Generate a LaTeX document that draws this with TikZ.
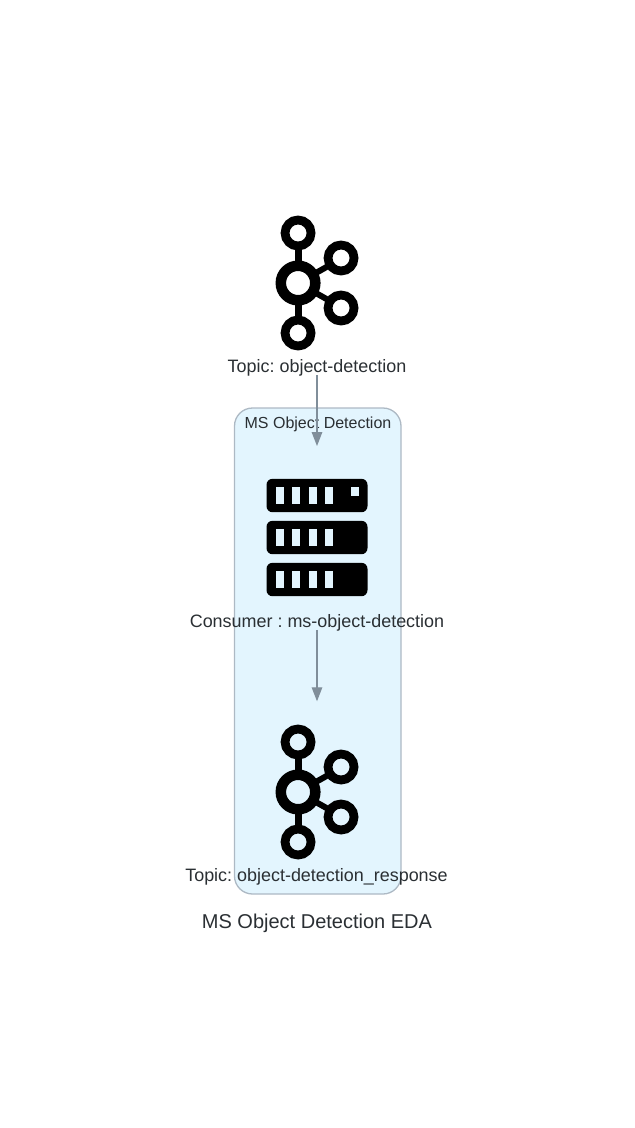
\documentclass[tikz,border=0pt]{standalone}
\usepackage{fontspec}
\setmainfont{Liberation Sans}
\frenchspacing
\usetikzlibrary{calc}
\usetikzlibrary{positioning}
\usetikzlibrary{arrows.meta}
\definecolor{clusterFill}{HTML}{E3F5FE}
\definecolor{clusterLine}{HTML}{ADB9C4}
\definecolor{flowLine}{HTML}{808E9A}
\definecolor{labelText}{HTML}{2A2F33}
\tikzstyle{iconbox} = [minimum width=112pt, minimum height=183.5pt, inner sep=0pt]
\tikzstyle{iconnode} = [inner sep=0pt, outer sep=0pt]
\tikzstyle{textnode} = [inner sep=0pt, text=labelText, font=\fontsize{17.95pt}{20pt}\selectfont]
\tikzstyle{flow} = [draw=flowLine, line width=1.3pt, -{Triangle[length=14pt, width=10.5pt]}]
\newcommand{\kafkaicon}{\tikz{
    \draw[line width=7pt] (0,-18) -- (0,-38);
    \draw[line width=7pt] (0,18) -- (0,38);
    \draw[line width=6pt] (16,-9) -- (32,-18);
    \draw[line width=6pt] (16,9) -- (32,18);
    \draw[line width=10.5pt] (0,0) circle (17.25);
    \foreach \ringx/\ringy in {0/-50, 0/50, 43/-25, 43/25} {
        \draw[line width=8.8pt] (\ringx,\ringy) circle (13);
    }
}}
\newcommand{\servericon}{\tikz{
    \foreach \rowy in {0,42,84} {
        \fill[rounded corners=6pt] (0,\rowy) rectangle (101,\rowy+33.4);
        \foreach \slotx in {9,25.5,42,58.5} {
            \fill[clusterFill] (\slotx,\rowy+8.4) rectangle (\slotx+8.4,\rowy+25);
        }
    }
    \fill[clusterFill] (84,8.4) rectangle (92.4,16.8);
}}

\begin{document}
\begin{tikzpicture}[x=1pt, y=-1pt]
\useasboundingbox (0,0) rectangle (635,1128);
\node[draw=clusterLine, fill=clusterFill, line width=1.3pt, rounded corners=18pt, minimum width=166.5pt, minimum height=486pt, inner sep=0pt] (cluster_ms) at (317.75,651) {};
\node[textnode, font=\fontsize{16pt}{19pt}\selectfont] (cluster_label) at (318,424) {MS Object Detection};

\node[iconbox] (topic_in) at (317,283.25) {};
\node[iconnode] (topic_in_icon) at (317,283) {\kafkaicon};
\node[textnode] (topic_in_label) at (317,368) {Topic: object-detection};

\node[iconbox] (consumer) at (317,538) {};
\node[iconnode] (consumer_icon) at (317,537.5) {\servericon};
\node[textnode] (consumer_label) at (317,623) {Consumer : ms-object-detection};

\node[iconbox] (topic_out) at (317,793.25) {};
\node[iconnode] (topic_out_icon) at (317,792) {\kafkaicon};
\node[textnode] (topic_out_label) at (316.5,877) {Topic: object-detection\_response};

\node[textnode, font=\fontsize{20pt}{23pt}\selectfont] (diagram_title) at (317,923) {MS Object Detection EDA};

\draw[flow] (topic_in) -- (consumer);
\draw[flow] (consumer) -- (topic_out);
\end{tikzpicture}
\end{document}
